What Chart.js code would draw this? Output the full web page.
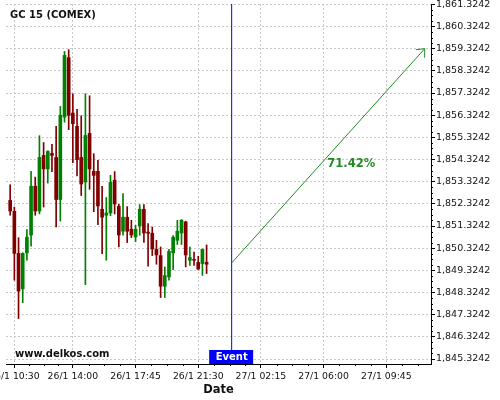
<!DOCTYPE html>
<html><head><meta charset="utf-8">
<script src="https://cdn.jsdelivr.net/npm/chart.js@4/dist/chart.umd.min.js"></script>
<style>html,body{margin:0;padding:0;background:#fff;}#wrap{width:500px;height:400px;position:relative}</style>
</head><body><div id="wrap"><canvas id="c" width="500" height="400"></canvas></div>
<script>
const chartTitle = 'GC 15 (COMEX)';
const watermark = 'www.delkos.com';
const candleIdx = [-1,0,1,2,3,4,5,6,7,8,9,10,11,12,13,14,15,16,17,18,19,20,21,22,23,24,25,26,27,28,29,30,31,32,33,34,35,36,37,38,39,40,41,42,43,44,45,46];
const opens  = [1852.48,1851.99,1850.09,1848.49,1850.11,1850.92,1853.12,1852.00,1854.51,1853.90,1854.60,1854.42,1852.52,1856.24,1858.92,1856.42,1855.82,1854.42,1853.31,1855.50,1853.79,1853.79,1852.08,1851.81,1851.91,1853.39,1852.21,1851.09,1851.72,1851.18,1850.83,1851.33,1852.08,1851.05,1851.00,1850.27,1849.99,1848.61,1849.03,1850.11,1850.68,1851.01,1851.51,1849.78,1849.82,1849.68,1849.63,1849.69];
const highs  = [1853.19,1852.18,1850.80,1850.12,1851.16,1853.79,1853.53,1855.40,1855.09,1854.72,1855.01,1855.82,1856.72,1859.20,1859.28,1857.29,1856.59,1856.30,1857.29,1857.20,1854.59,1854.29,1853.12,1852.61,1853.61,1853.78,1852.30,1852.79,1852.20,1851.58,1851.36,1852.29,1852.29,1851.43,1851.28,1850.68,1850.38,1849.48,1850.27,1850.89,1851.58,1851.62,1851.54,1850.38,1850.15,1849.96,1850.29,1850.47];
const lows   = [1851.81,1848.88,1847.15,1847.87,1849.78,1850.41,1851.81,1851.87,1852.18,1853.26,1853.78,1851.28,1851.55,1856.01,1855.67,1854.18,1853.58,1852.70,1848.68,1852.98,1851.97,1851.39,1850.08,1849.78,1851.79,1851.87,1850.38,1850.91,1850.58,1850.80,1850.62,1850.91,1850.58,1849.51,1849.99,1849.60,1848.10,1848.10,1848.88,1849.36,1850.49,1850.49,1849.48,1849.55,1849.55,1849.35,1849.10,1849.18];
const closes = [1852.00,1850.09,1848.39,1850.09,1850.82,1853.12,1852.00,1854.42,1853.90,1854.69,1854.51,1852.52,1856.32,1859.02,1856.32,1855.94,1854.32,1853.22,1855.41,1853.90,1853.61,1852.23,1851.72,1851.91,1853.30,1852.32,1850.92,1851.72,1851.09,1850.92,1851.18,1852.08,1851.01,1851.00,1850.29,1850.02,1848.61,1849.09,1850.18,1850.82,1851.09,1851.58,1850.02,1849.90,1849.78,1849.39,1850.27,1849.60];
const xTickIdx = [0,14,29,44,59,74,89];
const xTickLabels = ['26/1 10:30','26/1 14:00','26/1 17:45','26/1 21:30','27/1 02:15','27/1 06:00','27/1 09:45'];
const yTicks = [1845.3242,1846.3242,1847.3242,1848.3242,1849.3242,1850.3242,1851.3242,1852.3242,1853.3242,1854.3242,1855.3242,1856.3242,1857.3242,1858.3242,1859.3242,1860.3242,1861.3242];
const eventIdx = 52;
const eventLabel = 'Event';
const arrowFrom = {x: 52, y: 1849.66};
const arrowTo = {x: 98.2, y: 1859.3242};
const arrowLabel = '71.42%';
const arrowLabelPos = {x: 74.9, y: 1854.14};
const xMin = -2, xMax = 99.7, yMin = 1845.10, yMax = 1861.34;

const UP = '#008000', DOWN = '#800000', ARROW = '#228b22';
const FONT = 'DejaVu Sans';
Chart.defaults.font.family = FONT;

const wickData = candleIdx.map((x, i) => ({x, y: [lows[i], highs[i]]}));
const bodyData = candleIdx.map((x, i) => ({x, y: [opens[i], closes[i]]}));
const colorAt = (ctx) => { const i = ctx.dataIndex; return closes[i] >= opens[i] ? UP : DOWN; };

function fmt(v) {
  return v.toLocaleString('en-US', {minimumFractionDigits: 4, maximumFractionDigits: 4});
}

const decor = {
  id: 'decor',
  afterDatasetsDraw(chart) {
    const {ctx, scales: {x, y}} = chart;
    const meta = chart.getDatasetMeta(3);
    const p0 = meta.data[0], p1 = meta.data[1];
    const ang = Math.atan2(p1.y - p0.y, p1.x - p0.x);
    const L = 9, spread = 0.72;
    ctx.save();
    ctx.strokeStyle = ARROW; ctx.lineWidth = 1;
    ctx.beginPath();
    ctx.moveTo(p1.x - L * Math.cos(ang - spread), p1.y - L * Math.sin(ang - spread));
    ctx.lineTo(p1.x, p1.y);
    ctx.lineTo(p1.x - L * Math.cos(ang + spread), p1.y - L * Math.sin(ang + spread));
    ctx.stroke();
    ctx.fillStyle = ARROW;
    ctx.font = 'bold 11.5px ' + FONT;
    ctx.textAlign = 'left'; ctx.textBaseline = 'middle';
    ctx.fillText(arrowLabel, x.getPixelForValue(arrowLabelPos.x), y.getPixelForValue(arrowLabelPos.y));
    ctx.restore();
  },
  afterDraw(chart) {
    const {ctx, scales: {x, y}, chartArea: a} = chart;
    ctx.save();
    ctx.strokeStyle = '#000'; ctx.lineWidth = 1;
    ctx.beginPath();
    for (let i = 0; i < yTicks.length - 1; i++) {
      for (let k = 1; k < 4; k++) {
        const py = Math.round(y.getPixelForValue(yTicks[i] + (yTicks[i + 1] - yTicks[i]) * k / 4)) + 0.5;
        ctx.moveTo(a.right, py); ctx.lineTo(a.right + 2, py);
      }
    }
    const xm = [];
    for (let i = 0; i < xTickIdx.length - 1; i++) {
      for (let k = 1; k < 4; k++) xm.push(xTickIdx[i] + (xTickIdx[i + 1] - xTickIdx[i]) * k / 4);
    }
    const last = xTickIdx[xTickIdx.length - 1];
    for (let v = last + 3.75; v < xMax; v += 3.75) xm.push(v);
    xm.forEach(v => {
      const px = Math.round(x.getPixelForValue(v)) + 0.5;
      ctx.moveTo(px, a.bottom); ctx.lineTo(px, a.bottom + 2);
    });
    ctx.stroke();
    // title & watermark
    ctx.fillStyle = '#111';
    ctx.font = 'bold 10px ' + FONT;
    ctx.textAlign = 'left'; ctx.textBaseline = 'middle';
    ctx.fillText(chartTitle, 10, 15.5);
    ctx.fillText(watermark, 15, 354);
    // event box
    const ex = x.getPixelForValue(eventIdx);
    ctx.fillStyle = '#0000ff';
    ctx.fillRect(ex - 22.5, a.bottom - 14, 44, 14);
    ctx.fillStyle = '#fff';
    ctx.textAlign = 'center';
    ctx.fillText(eventLabel, ex, a.bottom - 7);
    ctx.restore();
  }
};

new Chart(document.getElementById('c'), {
  type: 'bar',
  data: {
    datasets: [
      {type: 'bar', data: wickData, backgroundColor: colorAt, barThickness: 1, grouped: false, order: 4},
      {type: 'bar', data: bodyData, backgroundColor: colorAt, barThickness: 3, grouped: false, order: 3},
      {type: 'line', data: [{x: eventIdx, y: yMin}, {x: eventIdx, y: yMax}], borderColor: '#0000ff', borderWidth: 1, pointRadius: 0, order: 2},
      {type: 'line', data: [arrowFrom, arrowTo], borderColor: ARROW, borderWidth: 1, pointRadius: 0, order: 1}
    ]
  },
  options: {
    responsive: false,
    devicePixelRatio: 1,
    animation: false,
    layout: {padding: {left: 6, top: 4, right: 0, bottom: 0}},
    plugins: {legend: {display: false}, tooltip: {enabled: false}, title: {display: false}},
    scales: {
      x: {
        type: 'linear', position: 'bottom', min: xMin, max: xMax, offset: false,
        afterBuildTicks: (s) => { s.ticks = xTickIdx.map(v => ({value: v})); },
        afterFit: (s) => { s.height = 36; s.paddingLeft = 0; s.paddingRight = 0; },
        ticks: {
          autoSkip: false, maxRotation: 0, minRotation: 0, padding: 3,
          color: '#111', font: {size: 9.3, family: FONT},
          callback: (v) => { const i = xTickIdx.indexOf(v); return i >= 0 ? xTickLabels[i] : ''; }
        },
        grid: {offset: false, color: '#c8c8c8', lineWidth: 1, tickLength: 4, tickColor: '#000', drawTicks: true},
        border: {display: true, color: '#000', width: 1, dash: [2, 2]},
        title: {display: true, text: 'Date', color: '#111', font: {size: 11.5, weight: 'bold', family: FONT}, padding: {top: 0, bottom: 3}}
      },
      y: {
        type: 'linear', position: 'right', min: yMin, max: yMax, beginAtZero: false,
        afterBuildTicks: (s) => { s.ticks = yTicks.map(v => ({value: v})); },
        afterFit: (s) => { s.width = 69; s.paddingTop = 0; s.paddingBottom = 0; },
        ticks: {
          padding: 1, color: '#111', font: {size: 9.5, family: FONT},
          callback: (v) => fmt(v)
        },
        grid: {color: '#c8c8c8', lineWidth: 1, tickLength: 4, tickColor: '#000', drawTicks: true},
        border: {display: true, color: '#000', width: 1, dash: [2, 2]}
      }
    }
  },
  plugins: [decor]
});
</script>
</body></html>
